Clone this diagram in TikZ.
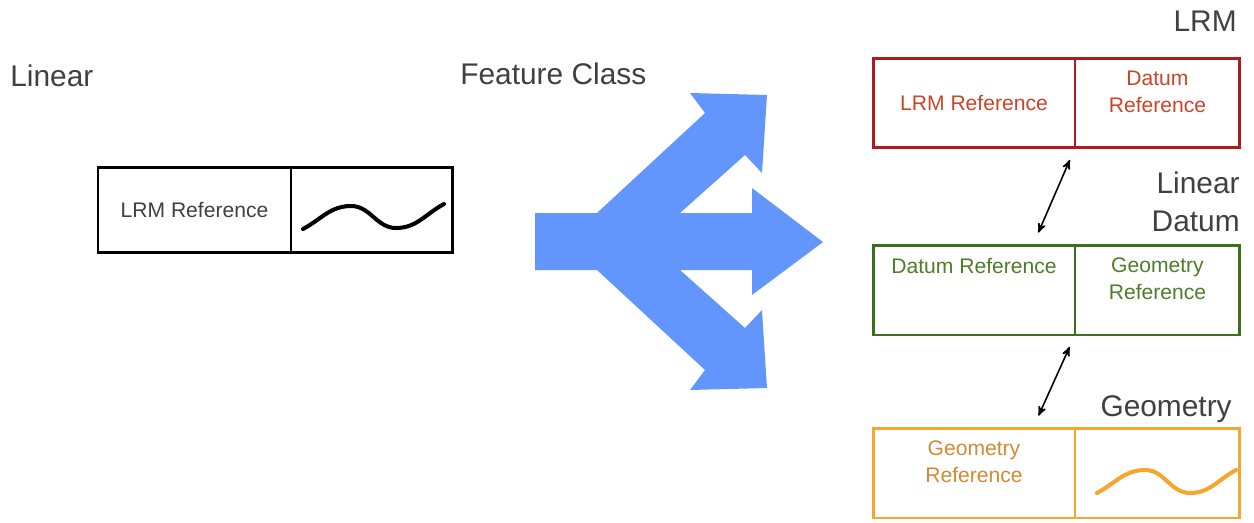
\documentclass[tikz,border=0pt]{standalone}
\usepackage{fontspec}
\setmainfont{Liberation Sans}
\usepackage{tikz}
\usetikzlibrary{arrows,positioning}

\definecolor{arrowblue}{RGB}{99,150,252}
\definecolor{headgray}{RGB}{64,64,64}
\definecolor{lrmframe}{RGB}{176,26,30}
\definecolor{lrmtext}{RGB}{204,68,40}
\definecolor{datframe}{RGB}{60,110,30}
\definecolor{dattext}{RGB}{78,125,42}
\definecolor{geoframe}{RGB}{245,166,45}
\definecolor{geotext}{RGB}{210,138,52}

\begin{document}
\begin{tikzpicture}[x=0.02cm, y=-0.02cm]
% STYLES
\tikzset{%
    cell/.style={%
        rectangle, inner sep=0pt, outer sep=0pt,
        minimum height=1.8cm, anchor=north west
    },
    heading/.style={%
        inner sep=0pt, text=headgray, font=\fontsize{17}{21.6}\selectfont
    },
    celltext/.style={%
        inner sep=0pt, align=center, font=\fontsize{12}{15.3}\selectfont
    },
    boxframe/.style={line width=1.7pt},
    divider/.style={line width=0.8pt},
    wave/.style={line width=2.3pt, line cap=round},
    link/.style={<->, >=stealth', line width=0.9pt, shorten <=0.26cm, shorten >=0.27cm}
}
\useasboundingbox (0,0) rectangle (1254,522);
% Headings
\node[heading, anchor=base west] (linear) at (10,86) {Linear};
\node[heading, anchor=base west] (feature) at (460,84) {Feature Class};
\node[heading, anchor=base east] (lrm) at (1237,31) {LRM};
\node[heading, anchor=north east, align=right] (datum) at (1240,171.5) {Linear\\Datum};
\node[heading, anchor=base east] (geometry) at (1232,416) {Geometry};
% Linear feature
\node[cell, celltext, text=headgray, minimum width=3.86cm, minimum height=1.72cm] (linL) at (98,167) {LRM Reference};
\node[cell, minimum width=3.24cm, minimum height=1.72cm, right=0pt of linL] (linR) {};
\draw[boxframe] (linL.north west) rectangle (linR.south east);
\draw[divider] (linL.north east) -- (linL.south east);
\draw[wave] (303,229) to[out=28, in=180] (351,206) to[out=0, in=180] (396,228) to[out=0, in=-152] (444,204);
% Feature class arrow
\fill[arrowblue] (535,213) -- (597,213) -- (705,113) -- (690,93) -- (767,95) -- (762,173)
    -- (745,155) -- (680,213) -- (752,213) -- (752,188) -- (823,242) -- (752,295)
    -- (752,270) -- (680,270) -- (745,328) -- (762,310) -- (767,388) -- (690,390)
    -- (705,370) -- (597,270) -- (535,270) -- cycle;
% LRM
\node[cell, celltext, text=lrmtext, minimum width=4.04cm] (lrmL) at (873,58) {LRM Reference};
\node[cell, minimum width=3.3cm, right=0pt of lrmL] (lrmR) {};
\draw[boxframe, lrmframe] (lrmL.north west) rectangle (lrmR.south east);
\draw[divider, lrmframe] (lrmL.north east) -- (lrmL.south east);
\node[celltext, text=lrmtext, below=0.25cm of lrmR.north] (lrmRtext) {Datum\\Reference};
% Linear datum
\node[cell, minimum width=4.04cm] (datL) at (873,245) {};
\node[cell, minimum width=3.3cm, right=0pt of datL] (datR) {};
\draw[boxframe, datframe] (datL.north west) rectangle (datR.south east);
\draw[divider, datframe] (datL.north east) -- (datL.south east);
\node[celltext, text=dattext, below=0.25cm of datL.north] (datLtext) {Datum Reference};
\node[celltext, text=dattext, below=0.25cm of datR.north] (datRtext) {Geometry\\Reference};
% Geometry
\node[cell, minimum width=4.04cm] (geoL) at (873,428) {};
\node[cell, minimum width=3.3cm, right=0pt of geoL] (geoR) {};
\draw[boxframe, geoframe] (geoL.north west) rectangle (geoR.south east);
\draw[divider, geoframe] (geoL.north east) -- (geoL.south east);
\node[celltext, text=geotext, below=0.25cm of geoL.north] (geoLtext) {Geometry\\Reference};
\draw[wave, geoframe] (1097,493) to[out=28, in=180] (1145,470) to[out=0, in=180] (1190,493) to[out=0, in=-152] (1236,470);
% Links
\draw[link] (lrmL.south east) -- ([xshift=-0.84cm]datL.north east);
\draw[link] (datL.south east) -- ([xshift=-0.84cm]geoL.north east);
\end{tikzpicture}
\end{document}
